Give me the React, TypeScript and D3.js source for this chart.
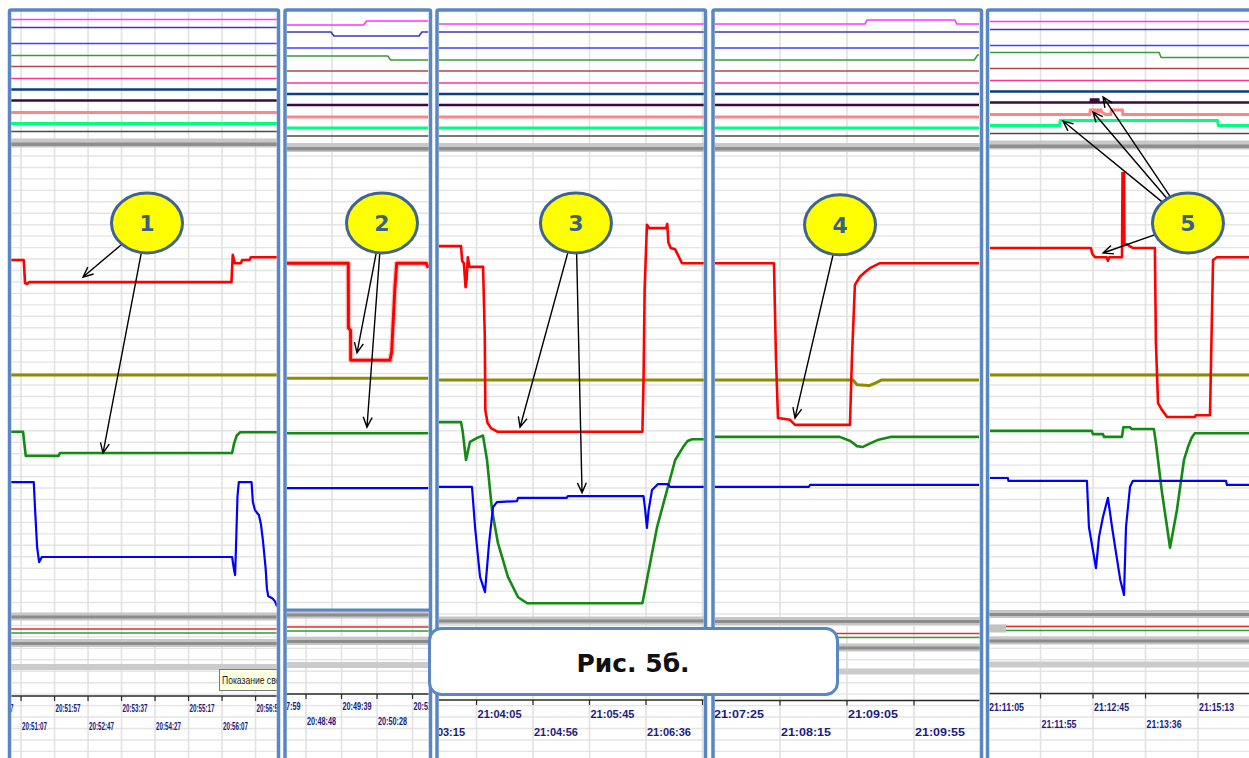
import React, { useEffect, useRef } from 'react';
import * as d3 from 'd3';

// Time axis labels, one tick every 50 s in every panel
const ticks1 = ['20:50:17', '20:51:07', '20:51:57', '20:52:47', '20:53:37', '20:54:27', '20:55:17', '20:56:07', '20:56:57'];
const ticks2 = ['20:47:59', '20:48:48', '20:49:39', '20:50:28', '20:51:18'];
const ticks3 = ['21:03:15', '21:04:05', '21:04:56', '21:05:45', '21:06:36', '21:07:26'];
const ticks4 = ['21:07:25', '21:08:15', '21:09:05', '21:09:55'];
const ticks5 = ['21:11:05', '21:11:55', '21:12:45', '21:13:36', '21:15:13'];

// Main traces: [seconds from window start, % of scale]
const p1Red = [[0, 76.2], [19, 76.2], [21, 71.2], [24, 71.0], [27, 71.4], [329, 71.4], [331, 77.3], [334, 75.5], [343, 75.5], [345, 76.2], [356, 76.2], [358, 76.8], [397, 76.8]];
const p1Olive = [[0, 51.3], [397, 51.3]];
const p1Green = [[0, 39.0], [18, 39.0], [19.5, 37.0], [22, 33.8], [71, 33.8], [73, 34.4], [330, 34.4], [333, 36.5], [337, 38.2], [342, 38.9], [397, 38.9]];
const p1Blue = [[0, 28.1], [34, 28.1], [36, 22.0], [39, 14.0], [42, 10.8], [46, 11.9], [330, 11.9], [333, 9.0], [334.5, 8.0], [336, 15.0], [338, 25.0], [340, 28.1], [359, 28.1], [361, 23.8], [364, 22.1], [367, 21.5], [370, 21.0], [373, 19.0], [376, 15.5], [380, 9.5], [382, 5.0], [384, 3.4], [390, 3.0], [394, 2.3], [397, 1.2]];

const p2Red = [[0, 75.5], [86.3, 75.5], [86.5, 61.5], [89.5, 61.0], [89.7, 54.5], [145, 54.5], [147.4, 56.3], [152, 70.3], [154.5, 75.5], [196, 75.5], [199, 74.5]];
const p2Olive = [[0, 50.6], [199, 50.6]];
const p2Green = [[0, 38.7], [199, 38.7]];
const p2Blue = [[0, 26.8], [199, 26.8]];

const p3Red = [[0, 79.2], [19.5, 79.2], [20.5, 76], [22, 75.5], [23.5, 70.3], [24.5, 72], [25.5, 76.8], [27, 74.7], [39, 74.7], [40.5, 60], [41, 43.7], [43, 40.9], [46, 39.8], [52, 39.0], [180, 39.0], [181, 50], [182, 70], [184, 83.8], [186, 83.1], [201, 83.1], [202, 84], [203, 80], [205, 78.8], [209, 78.5], [212, 77.0], [215, 75.5], [235.4, 75.5]];
const p3Olive = [[0, 50.2], [235.4, 50.2]];
const p3Green = [[0, 41.1], [19.5, 41.1], [21, 39], [23.9, 32.9], [27.4, 36.8], [33, 37.6], [36, 37.9], [38.9, 38.2], [42.5, 32.9], [46.9, 22.1], [52.2, 14.9], [61, 7.6], [70, 3.2], [78, 1.9], [180, 1.9], [193, 18.4], [209, 32.9], [216, 35.7], [220, 37], [224, 37.4], [235.4, 37.4]];
const p3Blue = [[0, 27.1], [29.2, 27.1], [31.9, 18.4], [36.3, 7.6], [40.7, 4.3], [44.3, 14.9], [47.8, 22.7], [51.3, 23.8], [69, 24.0], [70, 24.7], [113, 24.7], [114, 25.1], [181, 25.1], [182.5, 22], [184, 18.2], [185.5, 22], [188.5, 26.4], [193.8, 27.7], [202.7, 27.7], [204.4, 27.1], [235.4, 27.1]];

const p4Red = [[0, 75.5], [44, 75.5], [45.5, 55], [47, 42.0], [56, 41.6], [59.7, 40.5], [100.7, 40.5], [102.2, 55], [104.4, 70.8], [108, 72.5], [112, 73.6], [116, 74.5], [123, 75.5], [197, 75.5]];
const p4Olive = [[0, 50.2], [103, 50.2], [106, 49.2], [115, 49.0], [120, 49.6], [124, 50.2], [197, 50.2]];
const p4Green = [[0, 37.9], [93, 37.9], [101, 37.0], [106, 35.9], [110, 35.7], [115, 36.4], [122, 37.3], [131, 37.9], [197, 37.9]];
const p4Blue = [[0, 27.1], [70, 27.1], [71, 27.5], [197, 27.5]];

const p5Red = [[0, 78.8], [96, 78.8], [97.5, 77.5], [100, 76.8], [111, 76.8], [112.3, 76.0], [113.5, 76.8], [125.7, 76.8], [126.2, 95.0], [127.6, 95.0], [128, 79.4], [130.4, 79.6], [133, 79.2], [136, 78.8], [157, 78.8], [158, 58.2], [160, 45.2], [163.8, 43.7], [168.6, 42.2], [195, 42.2], [196, 42.6], [209.5, 42.6], [210.5, 54.5], [212.4, 76.2], [216, 76.8], [247, 76.8]];
const p5Olive = [[0, 51.3], [247, 51.3]];
const p5Green = [[0, 39.2], [97, 39.2], [98, 38.5], [107.6, 38.5], [108.5, 37.9], [125.7, 37.9], [127, 40.0], [133.3, 40.0], [135, 39.6], [156, 39.6], [158, 36.6], [163.8, 25.8], [168.6, 18.4], [171.4, 13.9], [178, 22.1], [184.7, 32.9], [188.5, 35.7], [192, 37.7], [195, 38.7], [247, 38.7]];
const p5Blue = [[0, 29.0], [17, 29.0], [17.5, 28.4], [92.3, 28.4], [94.2, 18.4], [100.9, 9.5], [103.8, 16.2], [107.6, 20.6], [112.3, 24.7], [116.2, 18.4], [120, 12.8], [124, 7], [127.6, 3.7], [129.5, 18.4], [133.3, 27.1], [136.1, 28.4], [224.7, 28.4], [225.6, 27.5], [247, 27.5]];

// Upper strip channels: default levels (% of strip)
const topLevels = [90.0, 84.3, 72.9, 64.3, 56.4, 47.9, 40.0, 32.1, 23.6, 15.7, 10.0];
// ...and the channels that move
const p2TopMagenta = [[0, 89.3], [108, 89.3], [112, 92.1], [199, 92.1]];
const p2TopNavy = [[0, 84.3], [62, 84.3], [66, 81.4], [186, 81.4], [190, 84.3], [199, 84.3]];
const p2TopGreen = [[0, 67.1], [142, 67.1], [146, 64.3], [199, 64.3]];
const p4TopMagenta = [[0, 90.0], [112, 90.0], [113.4, 92.9], [179, 92.9], [180.5, 90.0], [197, 90.0]];
const p4TopGreen = [[0, 64.3], [193.5, 64.3], [196, 67.9], [197, 67.9]];
const p5TopGreen = [[0, 67.9], [161, 67.9], [163, 64.3], [247, 64.3]];
const p5TopPurple = [[0, 32.1], [96, 32.1], [96.2, 34.3], [97.5, 34.3], [97.7, 32.1], [98.8, 32.1], [99, 34.3], [100.3, 34.3], [100.5, 32.1], [101.6, 32.1], [101.8, 34.3], [103.1, 34.3], [103.3, 32.1], [247, 32.1]];
const p5TopSalmon = [[0, 23.6], [95, 23.6], [95.5, 26.8], [100, 26.8], [101, 25.5], [102.5, 26.8], [104, 25.5], [105.5, 26.8], [107, 25], [110, 23.6], [115, 23.6], [115.5, 26.8], [126, 26.8], [126.5, 23.6], [247, 23.6]];
const p5TopSpring = [[0, 15.7], [66, 15.7], [67, 19.3], [216.5, 19.3], [217.5, 15.7], [247, 15.7]];

// Lower strip channels (% of strip): red, green
const bottomLevels = [55, 35];

// Callouts [panel, seconds, %] and arrow targets [callout, panel, seconds, %, scale]
const callouts = [[0, 203, 84.2], [1, 133.8, 84.2], [2, 121.2, 84.2], [3, 93.3, 83.8], [4, 188.5, 84.2]];
const calloutText = ['1', '2', '3', '4', '5'];
const arrowTargets = [
  [0, 0, 107.5, 72.5, 'main'], [0, 0, 137.3, 34.4, 'main'],
  [1, 1, 98.6, 56.1, 'main'], [1, 1, 112.6, 40.0, 'main'],
  [2, 2, 71.7, 40.0, 'main'], [2, 2, 126.6, 25.8, 'main'],
  [3, 3, 59.7, 42.0, 'main'],
  [4, 4, 69.5, 18.9, 'top'], [4, 4, 98, 25.4, 'top'], [4, 4, 107.6, 36.1, 'top'], [4, 4, 107.6, 77.7, 'main'],
];

const traceColors = ['#8c8c00', '#138a13', '#0000ff', '#ff0000'];
const traceWidths = [3, 2.6, 2.2, 2.6];
const topColors = ['#ff33ff', '#3b3bb3', '#3f3fff', '#3a9a3a', '#a84848', '#ff3399', '#0d3f80', '#3c0a42', '#ff8585', '#00ff80', '#4a4a4a'];
const topWidths = [1.6, 1.6, 1.6, 1.6, 1.6, 1.6, 2.6, 2.6, 3, 3, 1.6];
const bottomColors = ['#e03030', '#2e9e2e'];

const panels = [
  { left: 9.5, right: 278.5, x0: 11, x1: 277, span: 397, topDy: -4.5, botDy: 0, firstTick: -35, firstRow: 0, rowDy: [16, 34], font: 10.5, textLen: 25,
    labels: ticks1, traces: [p1Olive, p1Green, p1Blue, p1Red], tops: {} },
  { left: 285, right: 430.5, x0: 287, x1: 428.3, span: 199, topDy: 0, botDy: -2, firstTick: -23.2, firstRow: 0, rowDy: [16, 31], font: 10.5, textLen: 29,
    labels: ticks2, traces: [p2Olive, p2Green, p2Blue, p2Red], tops: { 0: p2TopMagenta, 1: p2TopNavy, 3: p2TopGreen }, glow: true, split: 610, upperGrid: [63.4] },
  { left: 437, right: 705.5, x0: 439, x1: 705, span: 235.4, topDy: 0, botDy: 4, firstTick: -16.8, firstRow: 1, rowDy: [17.5, 35.5], font: 11, textLen: 44,
    labels: ticks3, traces: [p3Olive, p3Green, p3Blue, p3Red], tops: {} },
  { left: 713, right: 981.5, x0: 715, x1: 979, span: 197, topDy: 0, botDy: 4.5, firstTick: -1.5, firstRow: 0, rowDy: [17.5, 35.5], font: 11.5, textLen: 50,
    labels: ticks4, traces: [p4Olive, p4Green, p4Blue, p4Red], tops: { 0: p4TopMagenta, 3: p4TopGreen } },
  { left: 987.5, right: 1254, x0: 990, x1: 1249.4, span: 247, topDy: -2.5, botDy: -2.5, firstTick: -1.9, firstRow: 0, rowDy: [17, 34], font: 10.5, textLen: 35,
    labels: ticks5, traces: [p5Olive, p5Green, p5Blue, p5Red], tops: { 3: p5TopGreen, 7: p5TopPurple, 8: p5TopSalmon, 9: p5TopSpring }, leftBlock: 15.2 },
];

const BORDER = '#5a87c2';

const scalesFor = (p: any) => ({
  x: d3.scaleLinear().domain([0, p.span]).range([p.x0, p.x1]),
  yTop: d3.scaleLinear().domain([0, 100]).range([150 + p.topDy, 10 + p.topDy]),
  yBot: d3.scaleLinear().domain([0, 100]).range([640 + p.botDy, 620 + p.botDy]),
});
const yMain = d3.scaleLinear().domain([0, 100]).range([612, 150]);

const App = () => {
  const svgRef = useRef<SVGSVGElement>(null);

  useEffect(() => {
    const svg = d3.select(svgRef.current);
    svg.selectAll('*').remove();
    const defs = svg.append('defs');

    panels.forEach((p: any, i) => {
      const { x, yTop, yBot } = scalesFor(p);
      const inL = p.left + 1.75;
      const inR = p.right - 1.75;
      const b = p.botDy;
      const axisY = 696 + b;

      defs.append('clipPath').attr('id', `clip${i}`)
        .append('rect').attr('x', inL).attr('y', 11.75).attr('width', inR - inL).attr('height', 760);
      const g = svg.append('g').attr('clip-path', `url(#clip${i})`);

      const tickSecs = p.labels.map((_: string, k: number) => p.firstTick + k * 50);
      const splitY = p.split || 0;

      // grid
      for (let gy = 156; gy < 758; gy += 11.45) {
        g.append('line').attr('x1', inL).attr('x2', inR).attr('y1', gy).attr('y2', gy)
          .attr('stroke', '#e4e4e4').attr('stroke-width', 1.4);
      }
      const upper = p.upperGrid || tickSecs;
      upper.forEach((t: number) => {
        g.append('line').attr('x1', x(t)).attr('x2', x(t)).attr('y1', 12).attr('y2', splitY || 758)
          .attr('stroke', '#e2e2e2').attr('stroke-width', 1.6);
      });
      if (splitY) {
        tickSecs.forEach((t: number) => {
          g.append('line').attr('x1', x(t)).attr('x2', x(t)).attr('y1', splitY).attr('y2', 758)
            .attr('stroke', '#e2e2e2').attr('stroke-width', 1.6);
        });
      }

      // upper strip
      topLevels.forEach((lvl, c) => {
        const series = p.tops[c] || [[0, lvl], [p.span, lvl]];
        const line = d3.line<number[]>().x((d) => x(d[0])).y((d) => yTop(d[1]));
        g.append('path').attr('d', line(series)).attr('fill', 'none')
          .attr('stroke', topColors[c]).attr('stroke-width', topWidths[c]);
      });
      g.append('rect').attr('x', inL).attr('y', 143 + p.topDy).attr('width', inR - inL).attr('height', 9).attr('fill', '#c8c8c8');
      g.append('rect').attr('x', inL).attr('y', 147 + p.topDy).attr('width', inR - inL).attr('height', 3.5).attr('fill', '#8e8e8e');

      // main traces
      const mainLine = d3.line<number[]>().x((d) => x(d[0])).y((d) => yMain(d[1]));
      p.traces.forEach((tr: number[][], k: number) => {
        if (p.glow && k === 3) {
          g.append('path').attr('d', mainLine(tr)).attr('fill', 'none')
            .attr('stroke', '#ffc4c4').attr('stroke-width', 5.5).attr('stroke-linejoin', 'round');
        }
        g.append('path').attr('d', mainLine(tr)).attr('fill', 'none')
          .attr('stroke', traceColors[k]).attr('stroke-width', p.glow && k === 3 ? 3 : traceWidths[k])
          .attr('stroke-linejoin', 'round');
      });

      // lower strip
      g.append('rect').attr('x', inL).attr('y', 612.5 + b).attr('width', inR - inL).attr('height', 8).attr('fill', '#c6c6c6');
      g.append('rect').attr('x', inL).attr('y', 615.5 + b).attr('width', inR - inL).attr('height', 3).attr('fill', '#8c8c8c');
      const startS = p.leftBlock || 0;
      if (p.leftBlock) {
        g.append('rect').attr('x', inL).attr('y', yBot(65)).attr('width', x(startS) - inL)
          .attr('height', yBot(25) - yBot(65)).attr('fill', '#c2c2c2');
      }
      bottomLevels.forEach((lvl, k) => {
        g.append('line').attr('x1', x(startS)).attr('x2', inR).attr('y1', yBot(lvl)).attr('y2', yBot(lvl))
          .attr('stroke', bottomColors[k]).attr('stroke-width', 1.4);
      });
      g.append('rect').attr('x', inL).attr('y', 639 + b).attr('width', inR - inL).attr('height', 8).attr('fill', '#c6c6c6');
      g.append('rect').attr('x', inL).attr('y', 642 + b).attr('width', inR - inL).attr('height', 3).attr('fill', '#8c8c8c');
      g.append('rect').attr('x', inL).attr('y', 664 + b).attr('width', inR - inL).attr('height', 6).attr('fill', '#cbcbcb');

      // time axis
      g.append('line').attr('x1', inL).attr('x2', inR).attr('y1', axisY).attr('y2', axisY)
        .attr('stroke', '#2a2a2a').attr('stroke-width', 1.5);
      tickSecs.forEach((t: number, k: number) => {
        g.append('line').attr('x1', x(t)).attr('x2', x(t)).attr('y1', axisY).attr('y2', axisY + 5)
          .attr('stroke', '#2a2a2a').attr('stroke-width', 1.2);
        const row = (k + p.firstRow) % 2;
        g.append('text').attr('x', x(t) + 1).attr('y', axisY + p.rowDy[row])
          .attr('font-family', 'Liberation Sans, Arial, sans-serif').attr('font-weight', 'bold')
          .attr('font-size', p.font).attr('fill', '#1b1b80')
          .attr('textLength', p.textLen).attr('lengthAdjust', 'spacingAndGlyphs')
          .text(p.labels[k]);
      });

      if (i === 0) {
        g.append('rect').attr('x', 219.5).attr('y', 669.5).attr('width', 66).attr('height', 21)
          .attr('fill', '#ffffe1').attr('stroke', '#7a7a7a');
        g.append('text').attr('x', 222).attr('y', 684).attr('font-family', 'Liberation Sans, Arial, sans-serif')
          .attr('font-size', 11.5).attr('fill', '#222').attr('textLength', 62).attr('lengthAdjust', 'spacingAndGlyphs')
          .text('Показание свет');
      }

      // panel frame
      svg.append('rect').attr('x', p.left).attr('y', 10).attr('width', p.right - p.left).attr('height', 800)
        .attr('fill', 'none').attr('stroke', BORDER).attr('stroke-width', 3.5).attr('rx', 1.5);
      if (splitY) {
        svg.append('line').attr('x1', p.left).attr('x2', p.right).attr('y1', splitY).attr('y2', splitY)
          .attr('stroke', BORDER).attr('stroke-width', 3);
      }
    });

    // callouts and arrows
    const RX = 35.5;
    const RY = 30;
    const centerOf = (c: number) => {
      const [pi, s, v] = callouts[c] as number[];
      const { x } = scalesFor(panels[pi]);
      return [x(s), yMain(v)];
    };
    arrowTargets.forEach(([c, pi, s, v, kind]: any) => {
      const sc = scalesFor(panels[pi]);
      const tx = sc.x(s);
      const ty = kind === 'top' ? sc.yTop(v) : yMain(v);
      const [cx, cy] = centerOf(c);
      const dx = tx - cx;
      const dy = ty - cy;
      const f = 1 / Math.sqrt((dx / RX) ** 2 + (dy / RY) ** 2);
      const sx = cx + dx * f;
      const sy = cy + dy * f;
      const ang = Math.atan2(ty - sy, tx - sx);
      const head = (a: number) => [tx - 11 * Math.cos(ang + a), ty - 11 * Math.sin(ang + a)];
      const [h1x, h1y] = head(0.42);
      const [h2x, h2y] = head(-0.42);
      svg.append('path')
        .attr('d', `M${sx},${sy}L${tx},${ty}M${h1x},${h1y}L${tx},${ty}L${h2x},${h2y}`)
        .attr('fill', 'none').attr('stroke', '#000').attr('stroke-width', 1.4);
    });
    callouts.forEach((_, c) => {
      const [cx, cy] = centerOf(c);
      svg.append('ellipse').attr('cx', cx).attr('cy', cy).attr('rx', RX).attr('ry', RY)
        .attr('fill', '#ffff00').attr('stroke', '#41638f').attr('stroke-width', 3);
      svg.append('text').attr('x', cx).attr('y', cy + 8).attr('text-anchor', 'middle')
        .attr('font-family', 'DejaVu Sans, Verdana, sans-serif').attr('font-weight', 'bold')
        .attr('font-size', 22).attr('fill', '#3d5f8c').text(calloutText[c]);
    });

    // caption box
    svg.append('rect').attr('x', 429.5).attr('y', 628.5).attr('width', 408).attr('height', 66).attr('rx', 12)
      .attr('fill', '#fff').attr('stroke', BORDER).attr('stroke-width', 3);
    svg.append('text').attr('x', 633).attr('y', 672).attr('text-anchor', 'middle')
      .attr('font-family', 'DejaVu Sans, Verdana, sans-serif').attr('font-weight', 'bold')
      .attr('font-size', 25).attr('fill', '#111').text('Рис. 5б.');
  }, []);

  return (
    <svg
      ref={svgRef}
      width={1249}
      height={758}
      style={{ position: 'absolute', left: 0, top: 0, display: 'block', background: '#fff' }}
    />
  );
};

export default App;
